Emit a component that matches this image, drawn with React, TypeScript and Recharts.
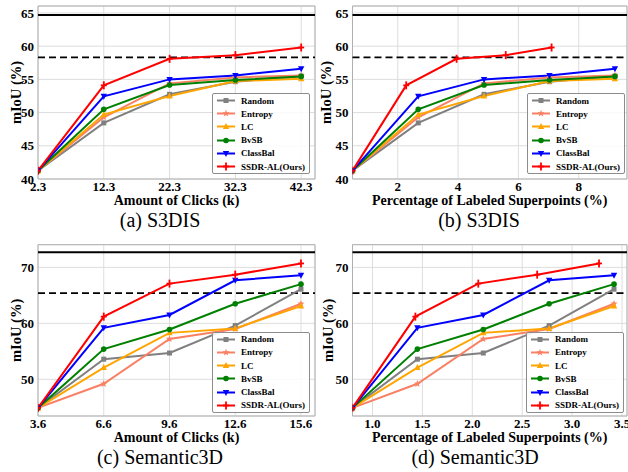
import { CartesianGrid, Legend, Line, LineChart, ReferenceArea, ReferenceLine, XAxis, YAxis } from 'recharts'

// S3DIS
const S3DIS_CLICKS = [2.3, 12.3, 22.3, 32.3, 42.3]
const S3DIS_PCT = [0.5, 2.68, 4.86, 7.03, 9.2]
const S3DIS_PCT_OURS = [0.5, 2.28, 3.95, 5.58, 7.1]
const S3DIS_RANDOM = [41.25, 48.45, 52.75, 54.65, 55.5]
const S3DIS_ENTROPY = [41.25, 49.3, 54.4, 55.3, 55.6]
const S3DIS_LC = [41.25, 49.7, 52.5, 54.75, 55.1]
const S3DIS_BVSB = [41.25, 50.5, 54.15, 54.9, 55.45]
const S3DIS_CLASSBAL = [41.25, 52.45, 55.0, 55.6, 56.6]
const S3DIS_OURS = [41.25, 54.1, 58.1, 58.65, 59.8]
const S3DIS_FULL = 64.7
const S3DIS_DASHED = 58.3

// Semantic3D
const SEM_CLICKS = [3.6, 6.6, 9.6, 12.6, 15.6]
const SEM_PCT = [0.8, 1.45, 2.11, 2.77, 3.42]
const SEM_PCT_OURS = [0.8, 1.43, 2.06, 2.65, 3.27]
const SEM_RANDOM = [44.9, 53.6, 54.7, 59.6, 66.1]
const SEM_ENTROPY = [44.9, 49.2, 57.2, 59.0, 63.5]
const SEM_LC = [44.9, 52.1, 58.3, 59.1, 63.1]
const SEM_BVSB = [44.9, 55.4, 58.9, 63.5, 67.0]
const SEM_CLASSBAL = [44.9, 59.2, 61.5, 67.7, 68.6]
const SEM_OURS = [44.9, 61.2, 67.1, 68.7, 70.7]
const SEM_FULL = 72.7
const SEM_DASHED = 65.4

const METHODS = ['Random', 'Entropy', 'LC', 'BvSB', 'ClassBal', 'SSDR-AL(Ours)']
const COLORS = ['#808080', '#FA8064', '#FFA500', '#008000', '#0000FF', '#FF0000']
const SHAPES = ['square', 'star', 'triangle', 'circle', 'triangleDown', 'plus']

const S3DIS_TICKS_X = [2.3, 12.3, 22.3, 32.3, 42.3]
const S3DIS_TICKS_PCT = [2, 4, 6, 8]
const S3DIS_TICKS_Y = [40, 45, 50, 55, 60, 65]
const SEM_TICKS_X = [3.6, 6.6, 9.6, 12.6, 15.6]
const SEM_TICKS_PCT = [1.0, 1.5, 2.0, 2.5, 3.0, 3.5]
const SEM_TICKS_Y = [50, 60, 70]

const SERIF = "'Liberation Serif', 'Times New Roman', serif"

function Marker({ cx, cy, shape, color }: { cx: number; cy: number; shape: string; color: string }) {
  if (shape === 'square') return <rect x={cx - 2.5} y={cy - 2.5} width={5} height={5} fill={color} />
  if (shape === 'circle') return <circle cx={cx} cy={cy} r={2.8} fill={color} />
  if (shape === 'triangle') return <polygon points={`${cx},${cy - 3.5} ${cx - 3.2},${cy + 2.5} ${cx + 3.2},${cy + 2.5}`} fill={color} />
  if (shape === 'triangleDown') return <polygon points={`${cx},${cy + 3.5} ${cx - 3.2},${cy - 2.5} ${cx + 3.2},${cy - 2.5}`} fill={color} />
  if (shape === 'star') {
    const pts: string[] = []
    for (let k = 0; k < 10; k++) {
      const r = k % 2 === 0 ? 3.8 : 1.6
      const a = -Math.PI / 2 + (k * Math.PI) / 5
      pts.push(`${cx + r * Math.cos(a)},${cy + r * Math.sin(a)}`)
    }
    return <polygon points={pts.join(' ')} fill={color} />
  }
  // plus
  return (
    <g fill={color}>
      <rect x={cx - 0.9} y={cy - 4} width={1.8} height={8} />
      <rect x={cx - 3} y={cy - 0.9} width={6} height={1.8} />
    </g>
  )
}

function LegendBox() {
  return (
    <div
      style={{
        border: '1px solid #8c8c8c',
        borderRadius: 2,
        background: 'rgba(255,255,255,0.85)',
        boxSizing: 'border-box',
        width: 98,
        height: 81,
      }}
    >
      {METHODS.map((m, i) => (
        <div key={m} style={{ display: 'flex', alignItems: 'center', height: 13.2 }}>
          <svg width={28} height={13} style={{ flex: 'none' }}>
            <line x1={4} x2={22} y1={6.5} y2={6.5} stroke={COLORS[i]} strokeWidth={2} />
            <Marker cx={13} cy={6.5} shape={SHAPES[i]} color={COLORS[i]} />
          </svg>
          <span style={{ fontFamily: SERIF, fontWeight: 'bold', fontSize: 9, color: '#000', whiteSpace: 'nowrap' }}>{m}</span>
        </div>
      ))}
    </div>
  )
}

function XTitle({ viewBox, text }: any) {
  return (
    <text x={viewBox.x + viewBox.width / 2} y={viewBox.y + 26} textAnchor="middle" fontFamily={SERIF} fontWeight="bold" fontSize={14} fill="#000">
      {text}
    </text>
  )
}

function YTitle({ viewBox, dx }: any) {
  const x = viewBox.x + dx
  const y = viewBox.y + viewBox.height / 2
  return (
    <text x={x} y={y} transform={`rotate(-90 ${x} ${y})`} textAnchor="middle" fontFamily={SERIF} fontWeight="bold" fontSize={14.5} fill="#000">
      mIoU (%)
    </text>
  )
}

interface PanelProps {
  left: number
  top: number
  width: number
  height: number
  marginTop: number
  marginRight: number
  yAxisWidth: number
  xs: number[][]
  ys: number[][]
  xDomain: [number, number]
  xTicks: number[]
  xFmt: (v: number) => string
  yDomain: [number, number]
  yTicks: number[]
  full: number
  dashed: number
  xTitle: string
  yTitleDx: number
  legendLeft: number
  legendTop: number
  caption: string
  captionX: number
}

function Panel(p: PanelProps) {
  const series = p.ys.map((vals, i) => vals.map((y, j) => ({ x: p.xs[i][j], y })))
  const tickStyle = { fontFamily: SERIF, fontWeight: 'bold', fontSize: 13, fill: '#000' }
  return (
    <div style={{ position: 'absolute', left: p.left, top: p.top, width: p.width, height: p.height }}>
      <LineChart width={p.width} height={p.height} margin={{ top: p.marginTop, right: p.marginRight, left: 0, bottom: 36 }}>
        <CartesianGrid stroke="#dddddd" strokeWidth={1} />
        <XAxis
          dataKey="x"
          type="number"
          domain={p.xDomain}
          ticks={p.xTicks}
          allowDataOverflow
          height={20}
          tickSize={0}
          tickMargin={3}
          axisLine={false}
          tickFormatter={p.xFmt}
          tick={tickStyle}
          interval={0}
          label={<XTitle text={p.xTitle} />}
        />
        <YAxis
          type="number"
          domain={p.yDomain}
          ticks={p.yTicks}
          allowDataOverflow
          width={p.yAxisWidth}
          tickSize={0}
          tickMargin={4}
          axisLine={false}
          tick={tickStyle}
          interval={0}
          label={<YTitle dx={p.yTitleDx} />}
        />
        <ReferenceLine y={p.full} stroke="#000" strokeWidth={2} />
        <ReferenceLine y={p.dashed} stroke="#000" strokeWidth={1.8} strokeDasharray="7 4" />
        {series.map((d, i) => (
          <Line
            key={METHODS[i]}
            data={d}
            dataKey="y"
            type="linear"
            stroke={COLORS[i]}
            strokeWidth={2}
            isAnimationActive={false}
            activeDot={false}
            dot={(dp: any) => <Marker key={`${METHODS[i]}-${dp.index}`} cx={dp.cx} cy={dp.cy} shape={SHAPES[i]} color={COLORS[i]} />}
          />
        ))}
        <ReferenceArea x1={p.xDomain[0]} x2={p.xDomain[1]} y1={p.yDomain[0]} y2={p.yDomain[1]} fill="none" stroke="#b0b0b0" strokeWidth={1} />
        <Legend
          layout="vertical"
          align="center"
          verticalAlign="middle"
          content={() => <LegendBox />}
          wrapperStyle={{ left: p.legendLeft, top: p.legendTop, width: 98, height: 81 }}
        />
      </LineChart>
      <div
        style={{
          position: 'absolute',
          left: p.captionX - 100,
          width: 200,
          top: p.height - 25,
          textAlign: 'center',
          fontFamily: SERIF,
          fontSize: 20,
          lineHeight: '20px',
          color: '#000',
        }}
      >
        {p.caption}
      </div>
    </div>
  )
}

const oneDec = (v: number) => v.toFixed(1)
const noDec = (v: number) => String(v)

export default function App() {
  const s3Ys = [S3DIS_RANDOM, S3DIS_ENTROPY, S3DIS_LC, S3DIS_BVSB, S3DIS_CLASSBAL, S3DIS_OURS]
  const semYs = [SEM_RANDOM, SEM_ENTROPY, SEM_LC, SEM_BVSB, SEM_CLASSBAL, SEM_OURS]
  const s3Clicks = METHODS.map(() => S3DIS_CLICKS)
  const s3Pct = METHODS.map((m) => (m === 'SSDR-AL(Ours)' ? S3DIS_PCT_OURS : S3DIS_PCT))
  const semClicks = METHODS.map(() => SEM_CLICKS)
  const semPct = METHODS.map((m) => (m === 'SSDR-AL(Ours)' ? SEM_PCT_OURS : SEM_PCT))
  return (
    <div style={{ position: 'fixed', left: 0, top: 0, width: 628, height: 472, background: '#fff', overflow: 'hidden' }}>
      <Panel
        left={0} top={0} width={320} height={235} marginTop={6} marginRight={5} yAxisWidth={38}
        xs={s3Clicks} ys={s3Ys} xDomain={[2.3, 44.4]} xTicks={S3DIS_TICKS_X} xFmt={oneDec}
        yDomain={[40, 66.05]} yTicks={S3DIS_TICKS_Y} full={S3DIS_FULL} dashed={S3DIS_DASHED}
        xTitle="Amount of Clicks (k)" yTitleDx={21} legendLeft={212} legendTop={93}
        caption="(a) S3DIS" captionX={160}
      />
      <Panel
        left={314} top={0} width={314} height={235} marginTop={6} marginRight={1} yAxisWidth={38.5}
        xs={s3Pct} ys={s3Ys} xDomain={[0.5, 9.6]} xTicks={S3DIS_TICKS_PCT} xFmt={noDec}
        yDomain={[40, 66.05]} yTicks={S3DIS_TICKS_Y} full={S3DIS_FULL} dashed={S3DIS_DASHED}
        xTitle="Percentage of Labeled Superpoints (%)" yTitleDx={17} legendLeft={213} legendTop={93}
        caption="(b) S3DIS" captionX={165}
      />
      <Panel
        left={0} top={235} width={320} height={237} marginTop={9.7} marginRight={5} yAxisWidth={38}
        xs={semClicks} ys={semYs} xDomain={[3.6, 16.24]} xTicks={SEM_TICKS_X} xFmt={oneDec}
        yDomain={[43.45, 74.05]} yTicks={SEM_TICKS_Y} full={SEM_FULL} dashed={SEM_DASHED}
        xTitle="Amount of Clicks (k)" yTitleDx={21} legendLeft={212} legendTop={96.7}
        caption="(c) Semantic3D" captionX={160}
      />
      <Panel
        left={314} top={235} width={314} height={237} marginTop={9.7} marginRight={1} yAxisWidth={38.5}
        xs={semPct} ys={semYs} xDomain={[0.8, 3.55]} xTicks={SEM_TICKS_PCT} xFmt={oneDec}
        yDomain={[43.45, 74.05]} yTicks={SEM_TICKS_Y} full={SEM_FULL} dashed={SEM_DASHED}
        xTitle="Percentage of Labeled Superpoints (%)" yTitleDx={19} legendLeft={212} legendTop={96.7}
        caption="(d) Semantic3D" captionX={161}
      />
    </div>
  )
}
